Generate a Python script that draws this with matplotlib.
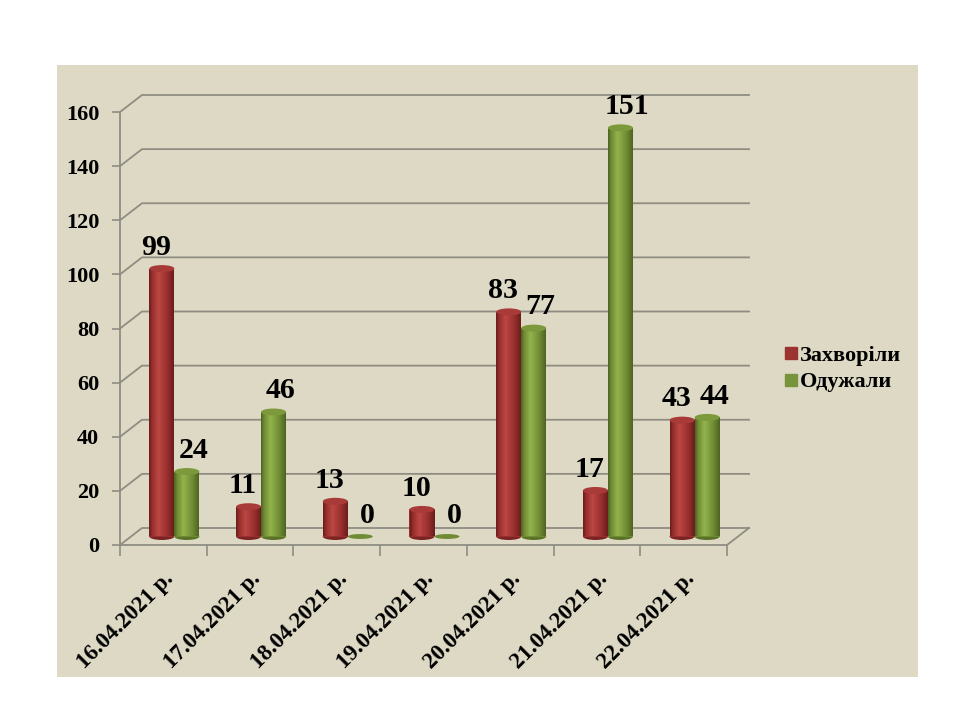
import matplotlib
matplotlib.use('Agg')
import matplotlib.pyplot as plt
import numpy as np
from matplotlib.patches import Ellipse, Rectangle
from matplotlib.lines import Line2D
from matplotlib.colors import LinearSegmentedColormap
import matplotlib.transforms as mtransforms

# ---- data ----
dates = ['16.04.2021 р.', '17.04.2021 р.', '18.04.2021 р.', '19.04.2021 р.',
         '20.04.2021 р.', '21.04.2021 р.', '22.04.2021 р.']
sick = [99, 11, 13, 10, 83, 17, 43]
recovered = [24, 46, 0, 0, 77, 151, 44]
series_names = ['Захворіли', 'Одужали']
yticks = [0, 20, 40, 60, 80, 100, 120, 140, 160]

SERIF = 'Liberation Serif'
BG = '#DDD9C4'
GRID = '#8F8C82'

fig = plt.figure(figsize=(9.6, 7.2), dpi=100)
fig.patch.set_facecolor('white')
fig.add_artist(Rectangle((57 / 960, (720 - 677) / 720), (918 - 57) / 960, (677 - 65) / 720,
                         transform=fig.transFigure, facecolor=BG, edgecolor='none', zorder=0))

ax = fig.add_axes([120 / 960, (720 - 545) / 720, 607 / 960, (545 - 112) / 720])
ax.set_facecolor('none')
n = len(dates)
ymax = yticks[-1]

px_x = 607 / n
px_y = 433 / ymax
DX = 22 / px_x
DY = 17 / px_y
W = 25 / px_x
EH = 7 / px_y

# gridlines on the back wall with perspective connectors
for v in yticks:
    ax.plot([0, DX, n + DX], [v, v + DY, v + DY], color=GRID, lw=1.3, clip_on=False, zorder=1)
ax.plot([n, n + DX], [0, DY], color=GRID, lw=1.3, clip_on=False, zorder=1)

for s in ['top', 'right']:
    ax.spines[s].set_visible(False)
for s in ['left', 'bottom']:
    ax.spines[s].set_color(GRID)
    ax.spines[s].set_linewidth(1.3)

def make_cmap(dark, mid, light):
    return LinearSegmentedColormap.from_list('c', [(0, dark), (0.12, mid), (0.38, light), (0.75, mid), (1, dark)])

styles = [
    dict(cmap=make_cmap('#6A1D1C', '#962F2D', '#BC4643'), base='#962F2D', top='#A83A37', bottom='#7A2322',
         legend='#9B3431', dx=-4),
    dict(cmap=make_cmap('#4E6422', '#6F8B33', '#93B44C'), base='#6F8B33', top='#7C9A3B', bottom='#5A7228',
         legend='#77933C', dx=5),
]
grad = np.linspace(0, 1, 64).reshape(1, -1)
base = DY / 2

for si, vals in enumerate([sick, recovered]):
    st = styles[si]
    for i, v in enumerate(vals):
        cx = i + 0.5 + DX / 2 + (si - 0.5) * W
        if v > 0:
            ax.add_patch(Ellipse((cx, base), W, EH, facecolor=st['bottom'], edgecolor='none',
                                 zorder=3 + si, clip_on=False))
            b = ax.bar(cx, v, width=W, bottom=base, color=st['base'], zorder=3 + si, clip_on=False)
            im = ax.imshow(grad, extent=[cx - W / 2, cx + W / 2, base, base + v], aspect='auto',
                           cmap=st['cmap'], zorder=3.1 + si, interpolation='bilinear')
            im.set_clip_path(b.patches[0])
            ax.add_patch(Ellipse((cx, base + v), W, EH, facecolor=st['top'], edgecolor='none',
                                 zorder=3.2 + si, clip_on=False))
        else:
            ax.add_patch(Ellipse((cx, base), W, EH * 0.7, facecolor=st['base'], edgecolor='none',
                                 zorder=3 + si, clip_on=False))
        ax.annotate(str(v), (cx, base + v), xytext=(st['dx'], 5.5), textcoords='offset points',
                    ha='center', va='bottom', fontsize=21.5, fontweight='bold', family=SERIF,
                    color='black', zorder=10, annotation_clip=False)

ax.set_xlim(0, n)
ax.set_ylim(0, ymax)

ax.set_yticks(yticks)
ax.set_yticklabels([str(t) for t in yticks], fontsize=16, fontweight='bold', family=SERIF)
ax.tick_params(axis='y', direction='out', length=6, color=GRID, width=1.2, pad=9)

ax.set_xticks(np.arange(n + 1))
ax.set_xticklabels([''] * (n + 1))
ax.tick_params(axis='x', which='major', direction='out', length=8, color=GRID, width=1.2)
ax.set_xticks(np.arange(n) + 0.5, minor=True)
ax.set_xticklabels(dates, minor=True, fontsize=16.5, fontweight='bold', family=SERIF)
ax.tick_params(axis='x', which='minor', length=0, pad=17)
off = mtransforms.ScaledTranslation(0 / 100, 0, fig.dpi_scale_trans)
for lab in ax.get_xticklabels(minor=True):
    lab.set_rotation(45)
    lab.set_ha('right')
    lab.set_va('top')
    lab.set_rotation_mode('anchor')
    lab.set_transform(lab.get_transform() + off)

handles = [Line2D([], [], marker='s', ls='', color=styles[k]['legend'], markersize=8) for k in range(2)]
fig.legend(handles, series_names, loc='center left', bbox_to_anchor=(780 / 960, (720 - 369) / 720),
           frameon=False, prop={'family': SERIF, 'size': 16, 'weight': 'bold'}, handletextpad=-0.1,
           labelspacing=0.25, handlelength=1.0, borderaxespad=0, borderpad=0)

fig.savefig('out.png', dpi=100, facecolor=fig.get_facecolor())
